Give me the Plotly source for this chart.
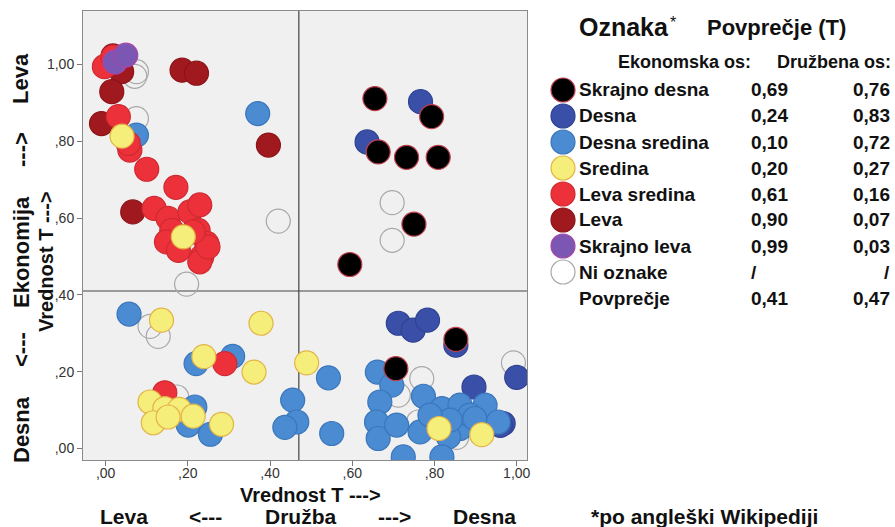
import plotly.graph_objects as go

# ---------------- DATA ----------------
# x = Družba (social) T value, y = Ekonomija (economic) T value
ni_oznake_x = [0.075, 0.071, 0.075, 0.217, 0.420, 0.197, 0.697, 0.697, 0.108, 0.128, 0.173, 0.992, 0.769, 0.712, 0.761, 0.854]
ni_oznake_y = [0.981, 0.969, 0.859, 0.564, 0.592, 0.428, 0.640, 0.542, 0.318, 0.292, 0.134, 0.223, 0.182, 0.139, 0.069, 0.029]

desna_x = [0.766, 0.636, 0.712, 0.748, 0.783, 0.852, 1.000, 0.896, 0.967, 0.960]
desna_y = [0.903, 0.798, 0.326, 0.308, 0.334, 0.269, 0.185, 0.160, 0.065, 0.060]

desna_sredina_x = [0.370, 0.075, 0.057, 0.220, 0.309, 0.455, 0.465, 0.436, 0.217, 0.201, 0.255,
                   0.542, 0.661, 0.696, 0.667, 0.773, 0.550, 0.659, 0.663, 0.708, 0.765, 0.818,
                   0.862, 0.923, 0.955, 0.862, 0.834, 0.886, 0.724, 0.818, 0.898, 0.838, 0.789]
desna_sredina_y = [0.872, 0.816, 0.350, 0.221, 0.240, 0.126, 0.069, 0.055, 0.108, 0.061, 0.037,
                   0.184, 0.199, 0.165, 0.121, 0.136, 0.039, 0.069, 0.026, 0.061, 0.043, 0.104,
                   0.113, 0.113, 0.069, 0.052, 0.030, 0.087, -0.022, -0.022, 0.078, 0.074, 0.087]

skrajno_desna_x = [0.655, 0.793, 0.663, 0.732, 0.809, 0.750, 0.594, 0.852, 0.706]
skrajno_desna_y = [0.911, 0.864, 0.772, 0.758, 0.758, 0.584, 0.479, 0.284, 0.208]

leva_x = [0.018, 0.039, 0.015, 0.186, 0.221, -0.010, 0.396, 0.066]
leva_y = [1.022, 0.981, 0.929, 0.985, 0.977, 0.846, 0.790, 0.616]

leva_sredina_x = [-0.003, 0.018, 0.031, 0.059, 0.055, 0.100, 0.171, 0.118, 0.152, 0.205, 0.229,
                  0.161, 0.225, 0.148, 0.177, 0.246, 0.234, 0.229, 0.249, 0.213, 0.144, 0.290]
leva_sredina_y = [0.994, 1.019, 0.864, 0.777, 0.794, 0.727, 0.680, 0.625, 0.599, 0.616, 0.634,
                  0.568, 0.568, 0.538, 0.516, 0.534, 0.499, 0.486, 0.525, 0.564, 0.145, 0.221]

sredina_x = [0.040, 0.189, 0.136, 0.378, 0.239, 0.361, 0.489, 0.108, 0.144, 0.179, 0.116, 0.152,
             0.213, 0.282, 0.811, 0.915]
sredina_y = [0.813, 0.551, 0.334, 0.326, 0.239, 0.199, 0.223, 0.121, 0.104, 0.102, 0.067, 0.082,
             0.084, 0.063, 0.052, 0.036]

skrajno_leva_x = [0.023, 0.049]
skrajno_leva_y = [1.006, 1.024]

# legend table
legend_labels = ["Skrajno desna", "Desna", "Desna sredina", "Sredina", "Leva sredina", "Leva",
                 "Skrajno leva", "Ni oznake", "Povprečje"]
legend_ekonomska = ["0,69", "0,24", "0,10", "0,20", "0,61", "0,90", "0,99", "/", "0,41"]
legend_druzbena = ["0,76", "0,83", "0,72", "0,27", "0,16", "0,07", "0,03", "/", "0,47"]

mean_druzba = 0.47
mean_ekonomija = 0.41

tick_vals = [0, 0.2, 0.4, 0.6, 0.8, 1.0]
tick_text = [",00", ",20", ",40", ",60", ",80", "1,00"]

# ---------------- STYLE ----------------
styles = {
    "Ni oznake": dict(color="rgba(0,0,0,0)", line="#a8a8a8"),
    "Desna": dict(color="#3a50a8", line="#2f4292"),
    "Desna sredina": dict(color="#4a8bd2", line="#3b76bb"),
    "Skrajno desna": dict(color="#000000", line="#c04050"),
    "Leva": dict(color="#a0191f", line="#8c1419"),
    "Leva sredina": dict(color="#ec313a", line="#cf2a31"),
    "Sredina": dict(color="#f6ee7a", line="#e2b446"),
    "Skrajno leva": dict(color="#7b56b2", line="#a847a8"),
    "Povprečje": dict(color="rgba(0,0,0,0)", line="rgba(0,0,0,0)"),
}

series = [
    ("Ni oznake", ni_oznake_x, ni_oznake_y),
    ("Desna", desna_x, desna_y),
    ("Desna sredina", desna_sredina_x, desna_sredina_y),
    ("Skrajno desna", skrajno_desna_x, skrajno_desna_y),
    ("Leva", leva_x, leva_y),
    ("Leva sredina", leva_sredina_x, leva_sredina_y),
    ("Sredina", sredina_x, sredina_y),
    ("Skrajno leva", skrajno_leva_x, skrajno_leva_y),
]

FONT = "Liberation Sans, Arial, sans-serif"
W, H = 895, 527
L, R, T, B = 83, 527, 11, 460  # plot area in pixels


def px2x(px):
    return (px - L) / (R - L)


def py2y(py):
    return (B - py) / (B - T)


fig = go.Figure()
for name, xs, ys in series:
    st = styles[name]
    fig.add_trace(go.Scatter(
        x=xs, y=ys, mode="markers", name=name, showlegend=False,
        marker=dict(size=24, color=st["color"], line=dict(color=st["line"], width=1.2)),
        hoverinfo="skip",
    ))

# mean reference lines
fig.add_shape(type="line", xref="x", yref="paper", x0=mean_druzba, x1=mean_druzba, y0=0, y1=1,
              line=dict(color="#444444", width=1.2), layer="below")
fig.add_shape(type="line", xref="paper", yref="y", x0=0, x1=1, y0=mean_ekonomija, y1=mean_ekonomija,
              line=dict(color="#444444", width=1.2), layer="below")

annotations = []
shapes = []

# axis titles and direction labels
annotations.append(dict(text="<b>Vrednost T ---&gt;</b>", x=px2x(310), y=py2y(495), font=dict(size=20)))
annotations.append(dict(text="<b>Vrednost T ---&gt;</b>", x=px2x(46), y=py2y(262), font=dict(size=20),
                        textangle=-90))
for txt, cx in [("Leva", 124), ("<---", 205), ("Družba", 300), ("--->", 394), ("Desna", 484),
                ("*po angleški Wikipediji", 704)]:
    annotations.append(dict(text="<b>%s</b>" % txt.replace("<", "&lt;").replace(">", "&gt;"),
                            x=px2x(cx), y=py2y(516), font=dict(size=21)))
for txt, cy in [("Leva", 79), ("--->", 150), ("Ekonomija", 252), ("<---", 350), ("Desna", 430)]:
    annotations.append(dict(text="<b>%s</b>" % txt.replace("<", "&lt;").replace(">", "&gt;"),
                            x=px2x(21), y=py2y(cy), font=dict(size=22), textangle=-90))

# legend headers
annotations.append(dict(text="<b>Oznaka</b>", x=px2x(577), y=py2y(27), xanchor="left", font=dict(size=25)))
annotations.append(dict(text="*", x=px2x(668), y=py2y(22), xanchor="left", font=dict(size=16)))
annotations.append(dict(text="<b>Povprečje (T)</b>", x=px2x(705), y=py2y(27), xanchor="left", font=dict(size=22)))
annotations.append(dict(text="<b>Ekonomska os:</b>", x=px2x(753), y=py2y(62), xanchor="right", font=dict(size=18)))
annotations.append(dict(text="<b>Družbena os:</b>", x=px2x(893), y=py2y(62), xanchor="right", font=dict(size=18)))

row_y0, row_dy = 90, 26
for i, lab in enumerate(legend_labels):
    cy = row_y0 + i * row_dy
    st = styles[lab]
    if lab != "Povprečje":
        shapes.append(dict(type="circle", xref="paper", yref="paper", xsizemode="pixel", ysizemode="pixel",
                           xanchor=px2x(563), yanchor=py2y(cy), x0=-12, x1=12, y0=-12, y1=12,
                           fillcolor=st["color"], line=dict(color=st["line"], width=1.2)))
    annotations.append(dict(text="<b>%s</b>" % lab, x=px2x(577), y=py2y(cy), xanchor="left", font=dict(size=19)))
    annotations.append(dict(text="<b>%s</b>" % legend_ekonomska[i], x=px2x(749), y=py2y(cy), xanchor="left",
                            font=dict(size=19)))
    annotations.append(dict(text="<b>%s</b>" % legend_druzbena[i], x=px2x(892), y=py2y(cy), xanchor="right",
                            font=dict(size=19)))

for a in annotations:
    a.setdefault("xref", "paper")
    a.setdefault("yref", "paper")
    a.setdefault("showarrow", False)
    a.setdefault("xanchor", "center")
    a.setdefault("yanchor", "middle")
    a["font"].setdefault("color", "#111111")
    a["font"].setdefault("family", FONT)

for s in shapes:
    fig.add_shape(**s)

axis_common = dict(
    tickvals=tick_vals, ticktext=tick_text, ticks="outside", ticklen=5, tickcolor="#777777",
    showgrid=False, zeroline=False, showline=True, mirror=True, linecolor="#8a8a8a", linewidth=1,
    tickfont=dict(family=FONT, size=14, color="#333333"),
)

fig.update_layout(
    width=W, height=H,
    margin=dict(l=L, r=W - R, t=T, b=H - B, pad=0),
    paper_bgcolor="white", plot_bgcolor="#f0f0f0",
    xaxis=dict(range=[-0.055, 1.025], ticklabelstandoff=-5, **axis_common),
    yaxis=dict(range=[-0.030, 1.139], **axis_common),
    annotations=annotations,
    showlegend=False,
)

fig.write_html("out.html", config={"displayModeBar": False},
               post_script="document.body.style.margin='0';document.body.style.overflow='hidden';")
